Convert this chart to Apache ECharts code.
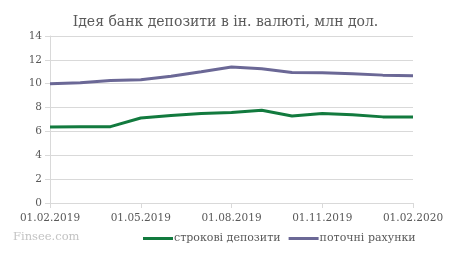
<!DOCTYPE html>
<html><head><meta charset="utf-8">
<script src="https://cdn.jsdelivr.net/npm/echarts@6/dist/echarts.min.js"></script>
<style>html,body{margin:0;padding:0;background:#fff}#c{width:451px;height:253px}</style>
</head><body><div id="c"></div>
<script>
const titleText = 'Ідея банк депозити в ін. валюті, млн дол.';
const categories = ['01.02.2019','01.03.2019','01.04.2019','01.05.2019','01.06.2019','01.07.2019','01.08.2019','01.09.2019','01.10.2019','01.11.2019','01.12.2019','01.01.2020','01.02.2020'];
const termDeposits = [6.38, 6.4, 6.4, 7.13, 7.33, 7.5, 7.58, 7.78, 7.3, 7.5, 7.4, 7.22, 7.22];
const currentAccounts = [10.0, 10.08, 10.27, 10.33, 10.63, 11.0, 11.4, 11.25, 10.94, 10.91, 10.83, 10.72, 10.66];
const seriesNames = ['строкові депозити', 'поточні рахунки'];
const yTicks = {min: 0, max: 14, interval: 2};
const watermark = 'Finsee.com';

const font = 'DejaVu Serif';
const chart = echarts.init(document.getElementById('c'), null, {renderer: 'canvas'});
chart.setOption({
  animation: false,
  title: {text: titleText, left: 'center', top: 10, textStyle: {fontFamily: font, fontSize: 14, fontWeight: 'normal', color: '#595959'}},
  graphic: [{type: 'text', left: 13, top: 231, style: {text: watermark, font: '11.5px "DejaVu Serif"', fill: '#c3c3c3'}}],
  grid: {left: 50, right: 38, top: 36, bottom: 50, containLabel: false},
  legend: {
    bottom: 4, left: 138, itemWidth: 30, itemHeight: 3, itemGap: 8,
    icon: 'rect',
    textStyle: {fontFamily: font, fontSize: 11, color: '#595959', padding: [0,0,0,-4]},
    data: seriesNames
  },
  xAxis: {
    type: 'category', boundaryGap: false, data: categories,
    axisLine: {lineStyle: {color: '#d9d9d9'}},
    axisTick: {interval: 2, length: 5, lineStyle: {color: '#d9d9d9'}},
    axisLabel: {interval: 2, fontFamily: font, fontSize: 10.5, color: '#595959', margin: 10}
  },
  yAxis: {
    type: 'value', min: yTicks.min, max: yTicks.max, interval: yTicks.interval,
    axisLine: {show: true, lineStyle: {color: '#d9d9d9'}},
    axisTick: {show: true, inside: false, length: 5, lineStyle: {color: '#d9d9d9'}},
    splitLine: {lineStyle: {color: '#d9d9d9'}},
    axisLabel: {fontFamily: font, fontSize: 10.5, color: '#595959', margin: 8}
  },
  series: [
    {name: seriesNames[0], type: 'line', data: termDeposits, symbol: 'none', lineStyle: {width: 3, color: '#127a3e'}, itemStyle: {color: '#127a3e'}},
    {name: seriesNames[1], type: 'line', data: currentAccounts, symbol: 'none', lineStyle: {width: 3, color: '#6b6896'}, itemStyle: {color: '#6b6896'}}
  ]
});
</script></body></html>
